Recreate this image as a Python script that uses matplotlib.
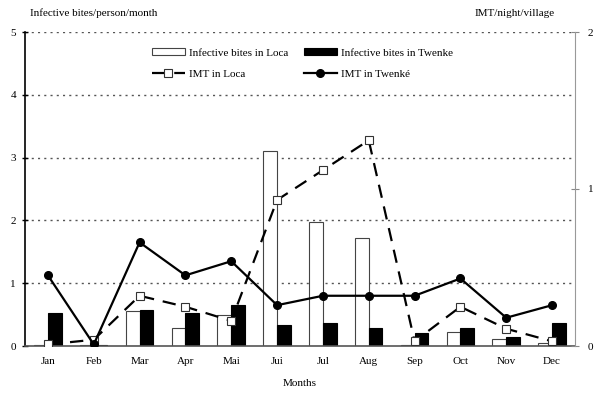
import numpy as np
import matplotlib.pyplot as plt

plt.rcParams['font.family'] = 'Liberation Serif'
plt.rcParams['font.size'] = 8

months = ['Jan', 'Feb', 'Mar', 'Apr', 'Mai', 'Jui', 'Jul', 'Aug', 'Sep', 'Oct', 'Nov', 'Dec']
bites_loca = [0.02, 0.01, 0.56, 0.29, 0.50, 3.10, 1.97, 1.72, 0.02, 0.22, 0.11, 0.04]
bites_twenke = [0.52, 0.02, 0.58, 0.53, 0.66, 0.34, 0.36, 0.29, 0.21, 0.28, 0.14, 0.36]
imt_loca = [0.01, 0.04, 0.32, 0.25, 0.16, 0.93, 1.12, 1.31, 0.03, 0.25, 0.11, 0.03]
imt_twenke = [0.45, 0.01, 0.66, 0.45, 0.54, 0.26, 0.32, 0.32, 0.32, 0.43, 0.18, 0.26]

x = np.arange(len(months)) + 0.5
w = 0.3

fig = plt.figure(figsize=(6, 4.01), dpi=100)
ax = fig.add_axes([25 / 600, 55 / 401, 550 / 600, 314 / 401])

b1 = ax.bar(x - w / 2, bites_loca, w, color='white', edgecolor='#444444', linewidth=0.8,
            label='Infective bites in Loca', zorder=2)
b2 = ax.bar(x + w / 2, bites_twenke, w, color='black', edgecolor='black', linewidth=0.8,
            label='Infective bites in Twenke', zorder=2)

ax.set_xlim(0, 12)
ax.set_ylim(0, 5)
ax.set_yticks(range(6))
ax.set_xticks(x)
ax.set_xticklabels(months)
ax.tick_params(axis='x', length=0, pad=8)
ax.tick_params(axis='y', direction='inout', length=5, width=1, pad=4)
for yv in range(1, 6):
    ax.axhline(yv, color='#555555', linestyle=(0, (1.5, 3)), linewidth=1, zorder=1)
ax.spines['top'].set_visible(False)
ax.spines['right'].set_visible(False)
ax.spines['left'].set_linewidth(1.2)
ax.spines['bottom'].set_color('#555555')
ax.spines['bottom'].set_linewidth(1.2)

ax2 = ax.twinx()
ax2.set_ylim(0, 2)
ax2.set_yticks([0, 1, 2])
ax2.tick_params(axis='y', direction='inout', length=6, width=0.8, color='#888888', pad=6)
ax2.spines['top'].set_visible(False)
ax2.spines['left'].set_visible(False)
ax2.spines['bottom'].set_visible(False)
ax2.spines['right'].set_color('#999999')

l1, = ax2.plot(x, imt_loca, color='black', linestyle=(0, (6, 4)), linewidth=1.6,
               marker='s', markersize=6, markerfacecolor='white', markeredgecolor='#333333',
               markeredgewidth=0.8, label='IMT in Loca', zorder=3)
l2, = ax2.plot(x, imt_twenke, color='black', linestyle='-', linewidth=1.6,
               marker='o', markersize=5.5, markerfacecolor='black', label='IMT in Twenké', zorder=3)

ax2.legend([b1, l1, b2, l2],
           ['Infective bites in Loca', 'IMT in Loca', 'Infective bites in Twenke', 'IMT in Twenké'],
           ncol=2, frameon=False, loc='upper center', bbox_to_anchor=(0.504, 0.98),
           handlelength=3.0, handleheight=0.6, columnspacing=1.4, labelspacing=1.05,
           handletextpad=0.35)

fig.text(30 / 600, 1 - 13 / 401, 'Infective bites/person/month', ha='left', va='center')
fig.text(555 / 600, 1 - 13 / 401, 'IMT/night/village', ha='right', va='center')
fig.text(300 / 600, 1 - 383 / 401, 'Months', ha='center', va='center')

fig.savefig('out.png', dpi=100)
